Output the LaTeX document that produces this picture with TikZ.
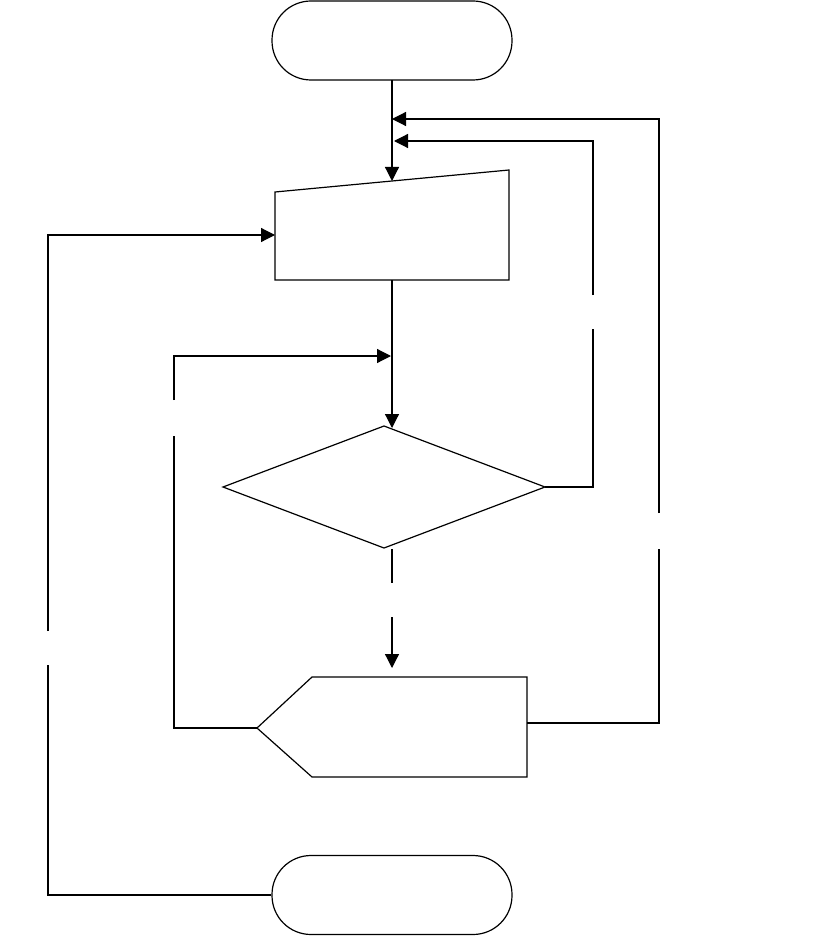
\documentclass[tikz,border=0pt]{standalone}
\usetikzlibrary{arrows.meta}
\begin{document}
\begin{tikzpicture}[x=1pt,y=-1pt,
  shapeline/.style={line width=1.2pt,black},
  conn/.style={line width=1.2pt,black},
  arr/.style={conn,-{Triangle[length=14pt,width=14pt]}},
  term/.style={shapeline,draw,rounded corners=39pt,minimum width=240pt,minimum height=79pt,inner sep=0pt}]
\useasboundingbox (0,0) rectangle (817,936);
% terminals
\node[term] (start) at (392,40.5) {};
\node[term] (stop) at (392,895) {};
% manual input
\coordinate (miTL) at (275,192);
\coordinate (miTR) at (509,170);
\coordinate (miBR) at (509,280);
\coordinate (miBL) at (275,280);
\draw[shapeline] (miTL) -- (miTR) -- (miBR) -- (miBL) -- cycle;
\coordinate (miTop) at (392,181);
\coordinate (miBot) at (392,280);
\coordinate (miLeft) at (275,235);
% decision
\coordinate (dT) at (384,426);
\coordinate (dL) at (223,487);
\coordinate (dR) at (545,487);
\coordinate (dB) at (384,548);
\draw[shapeline] (dT) -- (dR) -- (dB) -- (dL) -- cycle;
\coordinate (dIn) at (392,428);
% display
\coordinate (pL) at (257,728);
\coordinate (pTL) at (312,677);
\coordinate (pTR) at (527,677);
\coordinate (pBR) at (527,777);
\coordinate (pBL) at (312,777);
\draw[shapeline] (pL) -- (pTL) -- (pTR) -- (pBR) -- (pBL) -- cycle;
\coordinate (pR) at (527,723);
% connector points
\coordinate (j1) at (392,119);
\coordinate (j2) at (394,141);
\coordinate (j3) at (391,356);
\coordinate (r1a) at (593,487);
\coordinate (r1g1) at (593,329);
\coordinate (r1g2) at (593,295);
\coordinate (r1b) at (593,141);
\coordinate (r2a) at (659,723);
\coordinate (r2g1) at (659,549);
\coordinate (r2g2) at (659,513);
\coordinate (r2b) at (659,119);
\coordinate (l1a) at (174,728);
\coordinate (l1g1) at (174,436);
\coordinate (l1g2) at (174,400);
\coordinate (l1b) at (174,356);
\coordinate (l2g1) at (48,665);
\coordinate (l2g2) at (48,631);
\coordinate (l2b) at (48,235);
\coordinate (sTop) at (392,80);
\coordinate (dBot) at (392,549);
\coordinate (vg1) at (392,583);
\coordinate (vg2) at (392,617);
\coordinate (pIn) at (392,668);
% main flow
\draw[arr] (sTop) -- (miTop);
\draw[arr] (miBot) -- (dIn);
\draw[conn] (dBot) -- (vg1);
\draw[arr] (vg2) -- (pIn);
% loop from decision right back to top
\draw[conn] (dR) -- (r1a) -- (r1g1);
\draw[arr] (r1g2) -- (r1b) -- (j2);
% loop from display right back to top
\draw[conn] (pR) -- (r2a) -- (r2g1);
\draw[arr] (r2g2) -- (r2b) -- (j1);
% loop from display left back to decision input
\draw[conn] (pL) -- (l1a) -- (l1g1);
\draw[arr] (l1g2) -- (l1b) -- (j3);
% loop from stop back to manual input
\draw[conn] (stop.west) -- (stop.west -| l2b) -- (l2g1);
\draw[arr] (l2g2) -- (l2b) -- (miLeft);
\end{tikzpicture}
\end{document}
